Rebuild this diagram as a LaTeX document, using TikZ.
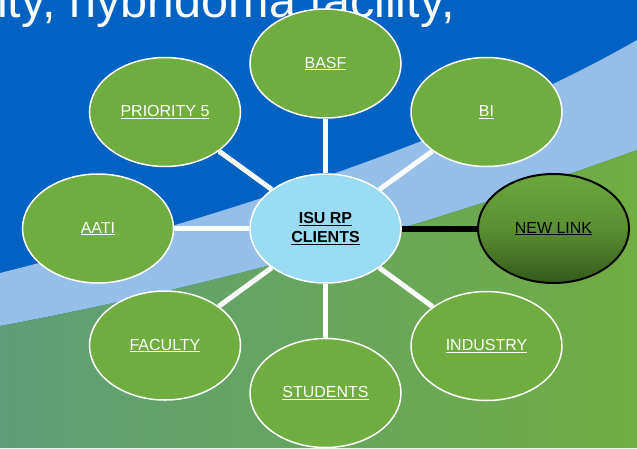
\documentclass[tikz,border=0pt]{standalone}
\usepackage{fontspec}
\setmainfont{Liberation Sans}
\usetikzlibrary{shapes.geometric}
\definecolor{bgblue}{HTML}{0062C3}
\definecolor{bandblue}{HTML}{95BEE8}
\definecolor{greenL}{HTML}{5E9E78}
\definecolor{greenR}{HTML}{70AD42}
\definecolor{nodegreen}{HTML}{70AD40}
\definecolor{hubblue}{HTML}{9BDCF5}
\definecolor{linkTop}{HTML}{6CA83D}
\definecolor{linkMid}{HTML}{5A8F32}
\definecolor{linkBot}{HTML}{345A1C}
\begin{document}
\begin{tikzpicture}[x=1pt,y=-1pt,
  leaf/.style={ellipse, draw=white, line width=1.5pt, fill=nodegreen,
    minimum width=151pt, minimum height=109pt, inner sep=0pt,
    text=white, font=\fontsize{16}{19}\selectfont},
  hub/.style={leaf, fill=hubblue, text=black, align=center,
    font=\bfseries\fontsize{16}{19}\selectfont},
  newlink/.style={leaf, draw=black, line width=2pt, text=black,
    top color=linkTop, bottom color=linkBot, middle color=linkMid},
  spoke/.style={draw=white, line width=5pt},
  blackspoke/.style={draw=black, line width=6pt}]
\clip (0,0) rectangle (637,448);
% background
\fill[bgblue] (0,0) rectangle (637,448);
\fill[bandblue] (0,273) .. controls (250,210) and (480,130) .. (637,40)
  -- (637,150) .. controls (430,225) and (220,285) .. (0,326) -- cycle;
\shade[left color=greenL, right color=greenR]
  (0,326) .. controls (220,285) and (430,225) .. (637,150)
  -- (637,448) -- (0,448) -- cycle;
% title
\node[anchor=base west, inner sep=0pt, text=white,
  font=\fontsize{48.6}{58}\selectfont] (title) at (-3,17.5) {ity, hybridoma facility,};
% nodes
\node[hub] (c) at (325.5,228.5) {\underline{ISU RP}\\\underline{CLIENTS}};
\node[leaf] (basf) at (325.5,63.5) {\underline{BASF}};
\node[leaf] (pri) at (165,112) {\underline{PRIORITY 5}};
\node[leaf] (bi) at (486.5,112) {\underline{BI}};
\node[leaf] (aati) at (98,228.5) {\underline{AATI}};
\node[newlink] (nl) at (553.5,228.5) {\underline{NEW LINK}};
\node[leaf] (fac) at (165,345.5) {\underline{FACULTY}};
\node[leaf] (ind) at (486.5,346) {\underline{INDUSTRY}};
\node[leaf] (stu) at (325.5,393) {\underline{STUDENTS}};
% connectors
\draw[spoke] (c) -- (basf);
\draw[spoke] (c) -- (pri);
\draw[spoke] (c) -- (bi);
\draw[spoke] (c) -- (aati);
\draw[spoke] (c) -- (fac);
\draw[spoke] (c) -- (ind);
\draw[spoke] (c) -- (stu);
\draw[blackspoke] (c) -- (nl);
\end{tikzpicture}
\end{document}
